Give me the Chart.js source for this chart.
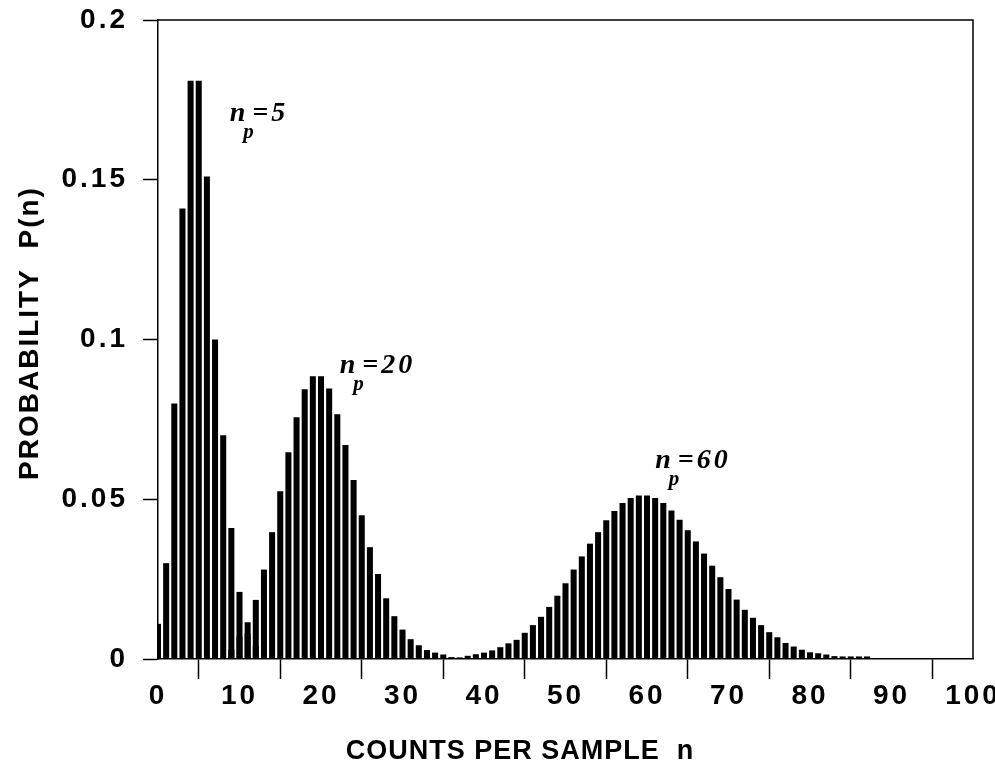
<!DOCTYPE html>
<html>
<head>
<meta charset="utf-8">
<script src="https://cdn.jsdelivr.net/npm/chart.js@4"></script>
<style>
  body { margin: 0; background: #fff; }
  canvas { display: block; }
</style>
</head>
<body>
<canvas id="grafico" width="995" height="767"></canvas>
<script>
// Datos: P(n) para cada valor medio n_p
const n5 = [0, 1, 2, 3, 4, 5, 6, 7, 8, 9, 10, 11, 12];
const p5 = [0.011, 0.030, 0.080, 0.141, 0.181, 0.181, 0.151, 0.100, 0.070, 0.041, 0.021, 0.008, 0.004];

const n20 = [9, 10, 11, 12, 13, 14, 15, 16, 17, 18, 19, 20, 21, 22, 23, 24, 25, 26, 27, 28, 29, 30, 31, 32, 33, 34, 35, 36, 37];
const p20 = [0.003, 0.007, 0.0115, 0.0185, 0.028, 0.0397, 0.0525, 0.0647, 0.0757, 0.0844, 0.0885, 0.0885, 0.0847, 0.0766,
             0.067, 0.056, 0.045, 0.035, 0.0266, 0.019, 0.0134, 0.0092, 0.0062, 0.0043, 0.0028, 0.002, 0.0014, 0.0006, 0.0005];

const n60 = [38, 39, 40, 41, 42, 43, 44, 45, 46, 47, 48, 49, 50, 51, 52, 53, 54, 55, 56, 57, 58, 59, 60, 61, 62,
             63, 64, 65, 66, 67, 68, 69, 70, 71, 72, 73, 74, 75, 76, 77, 78, 79, 80, 81, 82, 83, 84, 85, 86, 87];
const p60 = [0.001, 0.0015, 0.002, 0.0027, 0.0037, 0.0049, 0.006, 0.0082, 0.0106, 0.0132, 0.0163, 0.0198, 0.0237, 0.028,
             0.0321, 0.0361, 0.0397, 0.0434, 0.0463, 0.0488, 0.0504, 0.0512, 0.0512, 0.0504, 0.0488, 0.0465, 0.0436, 0.0403,
             0.0368, 0.033, 0.0292, 0.0256, 0.0219, 0.0186, 0.0154, 0.0129, 0.0106, 0.0084, 0.0068, 0.005, 0.0039, 0.0029,
             0.0021, 0.0018, 0.0014, 0.0009, 0.0008, 0.0008, 0.0008, 0.0008];

// Etiquetas de cada curva: [texto tras el subíndice, n, P]
const etiquetas = [['=5', 8.8, 0.1685], ['=20', 22.3, 0.0895], ['=60', 61, 0.0598]];

const tituloX = 'COUNTS PER SAMPLE  n';
const tituloY = 'PROBABILITY  P(n)';

const fuenteEjes = { family: "'Liberation Sans', Arial, sans-serif", size: 28, weight: 'bold' };

const serie = (ns, ps) => ns.map((n, i) => ({ x: n, y: ps[i] }));

const barra = {
    backgroundColor: '#000',
    borderWidth: 0,
    grouped: false,
    barPercentage: 0.74,
    categoryPercentage: 1
};

// Marco, títulos de ejes y etiquetas n_p
const extras = {
    id: 'extras',
    beforeDraw(chart) {
        chart.ctx.letterSpacing = '3px';
    },
    afterDraw(chart) {
        const { ctx, chartArea: a, scales } = chart;
        ctx.save();
        ctx.letterSpacing = '0px';
        ctx.strokeStyle = '#000';
        ctx.lineWidth = 1.5;
        ctx.beginPath();
        ctx.moveTo(a.left, a.top);
        ctx.lineTo(a.right, a.top);
        ctx.lineTo(a.right, a.bottom);
        ctx.stroke();

        ctx.fillStyle = '#000';
        ctx.font = "bold 27px 'Liberation Sans', Arial, sans-serif";
        ctx.letterSpacing = '1px';
        ctx.textAlign = 'center';
        ctx.textBaseline = 'alphabetic';
        ctx.fillText(tituloX, 520, 759);

        ctx.save();
        ctx.font = "bold 28px 'Liberation Sans', Arial, sans-serif";
        ctx.letterSpacing = '2px';
        ctx.translate(38, 333);
        ctx.rotate(-Math.PI / 2);
        ctx.fillText(tituloY, 0, 0);
        ctx.restore();

        ctx.textAlign = 'left';
        ctx.letterSpacing = '3px';
        etiquetas.forEach(([txt, n, p]) => {
            const x = scales.x.getPixelForValue(n);
            const y = scales.y.getPixelForValue(p);
            ctx.font = "bold italic 28px 'Liberation Serif', 'Times New Roman', serif";
            ctx.fillText('n', x, y);
            const w = ctx.measureText('n').width;
            ctx.fillText(txt, x + w + 4, y);
            ctx.font = "bold italic 21px 'Liberation Serif', 'Times New Roman', serif";
            ctx.fillText('p', x + w - 5, y + 17);
        });
        ctx.restore();
    }
};

new Chart(document.getElementById('grafico'), {
    type: 'bar',
    data: {
        datasets: [
            { label: 'n_p=5', data: serie(n5, p5), ...barra },
            { label: 'n_p=20', data: serie(n20, p20), ...barra },
            { label: 'n_p=60', data: serie(n60, p60), ...barra }
        ]
    },
    options: {
        responsive: false,
        animation: false,
        layout: { padding: { top: 20, right: 22, left: 0, bottom: 0 } },
        plugins: { legend: { display: false }, tooltip: { enabled: false } },
        scales: {
            x: {
                type: 'linear',
                min: 0,
                max: 100,
                offset: false,
                ticks: { stepSize: 10, color: '#000', font: fuenteEjes, padding: 0, maxRotation: 0 },
                grid: { drawOnChartArea: false, color: '#000', tickLength: 20, tickWidth: 1.5 },
                border: { color: '#000', width: 1.5 },
                afterFit: s => { s.height = 767 - 659; s.paddingLeft = 0; s.paddingRight = 0; }
            },
            y: {
                min: 0,
                max: 0.2,
                ticks: {
                    stepSize: 0.05, color: '#000', font: fuenteEjes, padding: 15,
                    callback: v => String(parseFloat(v.toFixed(2)))
                },
                grid: { drawOnChartArea: false, color: '#000', tickLength: 15, tickWidth: 1.5 },
                border: { color: '#000', width: 1.5 },
                afterFit: s => { s.width = 158; s.paddingTop = 0; s.paddingBottom = 0; }
            }
        }
    },
    plugins: [extras]
});
</script>
</body>
</html>
